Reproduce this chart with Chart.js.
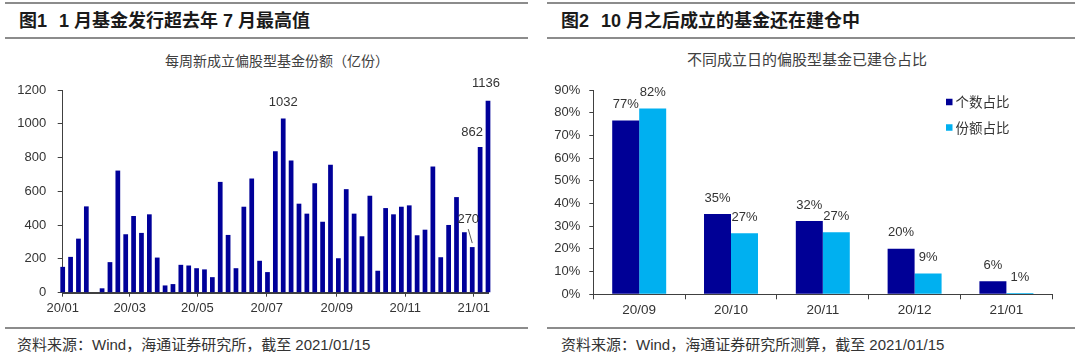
<!DOCTYPE html>
<html lang="zh-CN">
<head>
<meta charset="utf-8">
<title>基金发行与建仓</title>
<script src="https://cdn.jsdelivr.net/npm/chart.js@4.4.1/dist/chart.umd.min.js"></script>
<style>
  html, body { margin: 0; padding: 0; background: #fff; }
  body { position: relative; width: 1080px; height: 358px; overflow: hidden;
         font-family: "Liberation Sans", "Noto Sans CJK SC", sans-serif; color: #333; }
  .rule { position: absolute; height: 2px; background: #8c8c8c; }
  .head { position: absolute; top: 11px; font-size: 18px; line-height: 20px; font-weight: bold;
          color: #1a1a1a; white-space: nowrap; }
  .head .num { margin-right: 12px; }
  .title { position: absolute; line-height: 16px; white-space: nowrap; color: #404040;
           transform: translateX(-50%); font-family: "Noto Sans CJK SC", sans-serif; }
  .src { position: absolute; top: 336px; font-size: 15px; line-height: 18px; white-space: nowrap; color: #333; }
  .box { position: absolute; top: 70px; height: 250px; }
</style>
</head>
<body>
<div class="rule" style="left:5px;width:523px;top:2px"></div>
<div class="rule" style="left:5px;width:523px;top:37px"></div>
<div class="rule" style="left:5px;width:523px;top:327px"></div>
<div class="rule" style="left:547px;width:528px;top:2px"></div>
<div class="rule" style="left:547px;width:528px;top:37px"></div>
<div class="rule" style="left:547px;width:528px;top:327px"></div>

<div class="head" style="left:19px"><span class="num">图1</span>1 月基金发行超去年 7 月最高值</div>
<div class="head" style="left:561px"><span class="num">图2</span>10 月之后成立的基金还在建仓中</div>

<div class="title" style="left:277px;top:52px;font-size:14px">每周新成立偏股型基金份额（亿份）</div>
<div class="title" style="left:807px;top:51px;font-size:15px">不同成立日的偏股型基金已建仓占比</div>

<div class="src" style="left:17px">资料来源：Wind，海通证券研究所，截至 2021/01/15</div>
<div class="src" style="left:561px">资料来源：Wind，海通证券研究所测算，截至 2021/01/15</div>

<div class="box" style="left:0;width:530px"><canvas id="weekly" width="530" height="250"></canvas></div>
<div class="box" style="left:540px;width:540px"><canvas id="setup" width="540" height="250"></canvas></div>

<script>
(function(){
    // 图1: weekly new equity fund shares (100m units), week ending dates
    let weekLabels = [
        '2020-01-03', '2020-01-10', '2020-01-17', '2020-01-24', '2020-01-31',
        '2020-02-07', '2020-02-14', '2020-02-21', '2020-02-28', '2020-03-06',
        '2020-03-13', '2020-03-20', '2020-03-27', '2020-04-03', '2020-04-10',
        '2020-04-17', '2020-04-24', '2020-05-01', '2020-05-08', '2020-05-15',
        '2020-05-22', '2020-05-29', '2020-06-05', '2020-06-12', '2020-06-19',
        '2020-06-26', '2020-07-03', '2020-07-10', '2020-07-17', '2020-07-24',
        '2020-07-31', '2020-08-07', '2020-08-14', '2020-08-21', '2020-08-28',
        '2020-09-04', '2020-09-11', '2020-09-18', '2020-09-25', '2020-10-02',
        '2020-10-09', '2020-10-16', '2020-10-23', '2020-10-30', '2020-11-06',
        '2020-11-13', '2020-11-20', '2020-11-27', '2020-12-04', '2020-12-11',
        '2020-12-18', '2020-12-25', '2021-01-01', '2021-01-08', '2021-01-15'
    ];
    let weeklyShares = [
        153, 212, 320, 511, 0, 26, 181, 723, 346, 454,
        354, 464, 208, 43, 51, 165, 161, 145, 138, 92,
        656, 342, 145, 509, 676, 189, 122, 837, 1032, 782,
        527, 468, 648, 420, 758, 204, 613, 468, 334, 574,
        130, 501, 464, 509, 517, 340, 373, 747, 210, 401,
        566, 358, 270, 862, 1136
    ];
    let monthTickLabels = ['20/01', '20/03', '20/05', '20/07', '20/09', '20/11', '21/01'];
    let monthTickWeeks = [0, 8.5, 17.1, 25.9, 34.8, 43.5, 52.2];

    // 图2: share of funds already built positions, by setup month
    let setupMonths = ['20/09', '20/10', '20/11', '20/12', '21/01'];
    let countRatio = [76.6, 35.4, 32.3, 20.1, 5.7];
    let amountRatio = [81.9, 26.9, 27.3, 9.2, 0.6];
    let seriesNames = ['个数占比', '份额占比'];

    let axisColor = '#404040';
    let numFont = '13px "Liberation Sans", Arial, sans-serif';

    Chart.defaults.font.family = '"Liberation Sans", Arial, sans-serif';
    Chart.defaults.font.size = 13;
    Chart.defaults.color = '#333';

    let peakLabels = {
        id: 'peakLabels',
        afterDatasetsDraw(chart, args, opts) {
            let ctx = chart.ctx;
            let meta = chart.getDatasetMeta(0);
            let values = chart.data.datasets[0].data;
            ctx.save();
            ctx.font = numFont;
            ctx.fillStyle = '#333';
            ctx.textAlign = 'center';
            ctx.textBaseline = 'middle';
            opts.items.forEach((item) => {
                let bar = meta.data[item.index];
                let x = bar.x + item.dx;
                let y = bar.y - item.dy;
                ctx.fillText(String(values[item.index]), x, y);
                if (item.leader) {
                    ctx.strokeStyle = '#333';
                    ctx.lineWidth = 0.8;
                    ctx.beginPath();
                    ctx.moveTo(x, y + 10);
                    ctx.lineTo(bar.x, bar.y - 4);
                    ctx.stroke();
                }
            });
            ctx.restore();
        }
    };

    let pctLabels = {
        id: 'pctLabels',
        afterDatasetsDraw(chart, args, opts) {
            let ctx = chart.ctx;
            ctx.save();
            ctx.font = numFont;
            ctx.fillStyle = '#333';
            ctx.textAlign = 'center';
            ctx.textBaseline = 'middle';
            chart.data.datasets.forEach((ds, di) => {
                chart.getDatasetMeta(di).data.forEach((bar, i) => {
                    ctx.fillText(Math.round(ds.data[i]) + '%', bar.x, bar.y - opts.gap);
                });
            });
            ctx.restore();
        }
    };

    let sideLegend = {
        id: 'sideLegend',
        afterDraw(chart, args, opts) {
            let ctx = chart.ctx;
            let area = chart.chartArea;
            ctx.save();
            ctx.font = '13.5px "Noto Sans CJK SC", sans-serif';
            ctx.textAlign = 'left';
            ctx.textBaseline = 'middle';
            chart.data.datasets.forEach((ds, i) => {
                let x = area.right - opts.right;
                let y = area.top + opts.top + i * opts.rowGap;
                ctx.fillStyle = ds.backgroundColor;
                ctx.fillRect(x, y - opts.box / 2, opts.box, opts.box);
                ctx.fillStyle = '#333';
                ctx.fillText(ds.label, x + opts.box + 3, y);
            });
            ctx.restore();
        }
    };

    new Chart(document.getElementById('weekly'), {
        type: 'bar',
        data: {
            labels: weekLabels,
            datasets: [{
                label: '每周新成立偏股型基金份额（亿份）',
                data: weeklyShares,
                backgroundColor: '#000099',
                barPercentage: 0.6,
                categoryPercentage: 1,
                clip: false
            }]
        },
        options: {
            responsive: false,
            animation: false,
            layout: { padding: { top: 20, right: 42, left: 0, bottom: 0 } },
            plugins: {
                legend: { display: false },
                tooltip: { enabled: false },
                peakLabels: {
                    items: [
                        { index: 28, dx: 0, dy: 16 },
                        { index: 52, dx: -4, dy: 28, leader: true },
                        { index: 53, dx: -8, dy: 15 },
                        { index: 54, dx: -2, dy: 17 }
                    ]
                }
            },
            scales: {
                x: {
                    offset: false,
                    grid: { offset: false, drawOnChartArea: false, tickLength: 4, color: axisColor },
                    border: { color: axisColor, width: 2 },
                    afterBuildTicks: (scale) => {
                        scale.ticks = monthTickWeeks.map((v) => ({ value: v }));
                    },
                    afterFit: (scale) => { scale.height = 27.3; },
                    ticks: {
                        autoSkip: false,
                        maxRotation: 0,
                        padding: 4,
                        callback: (v, i) => monthTickLabels[i]
                    }
                },
                y: {
                    min: 0,
                    max: 1200,
                    grid: { drawOnChartArea: false, tickLength: 5, color: axisColor },
                    border: { color: axisColor, width: 1 },
                    ticks: { stepSize: 200, padding: 11.5, callback: (v) => String(v) },
                    afterFit: (scale) => { scale.width = 62.7; }
                }
            }
        },
        plugins: [peakLabels]
    });

    new Chart(document.getElementById('setup'), {
        type: 'bar',
        data: {
            labels: setupMonths,
            datasets: [
                {
                    label: seriesNames[0],
                    data: countRatio,
                    backgroundColor: '#000096',
                    categoryPercentage: 0.588,
                    barPercentage: 1
                },
                {
                    label: seriesNames[1],
                    data: amountRatio,
                    backgroundColor: '#00B0F0',
                    categoryPercentage: 0.588,
                    barPercentage: 1
                }
            ]
        },
        options: {
            responsive: false,
            animation: false,
            layout: { padding: { top: 20, right: 27.7, left: 0, bottom: 0 } },
            plugins: {
                legend: { display: false },
                tooltip: { enabled: false },
                pctLabels: { gap: 16 },
                sideLegend: { right: 106.3, top: 12, rowGap: 25.5, box: 6.5 }
            },
            scales: {
                x: {
                    grid: { drawOnChartArea: false, tickLength: 5, color: axisColor },
                    border: { color: axisColor, width: 1 },
                    ticks: { padding: 3, font: { size: 13.5 } },
                    afterFit: (scale) => { scale.height = 25.7; }
                },
                y: {
                    min: 0,
                    max: 90,
                    grid: { drawOnChartArea: false, tickLength: 4, color: axisColor },
                    border: { color: axisColor, width: 1 },
                    ticks: { stepSize: 10, padding: 9, callback: (v) => v + '%' },
                    afterFit: (scale) => { scale.width = 53.3; }
                }
            }
        },
        plugins: [pctLabels, sideLegend]
    });
})();
</script>
</body>
</html>
